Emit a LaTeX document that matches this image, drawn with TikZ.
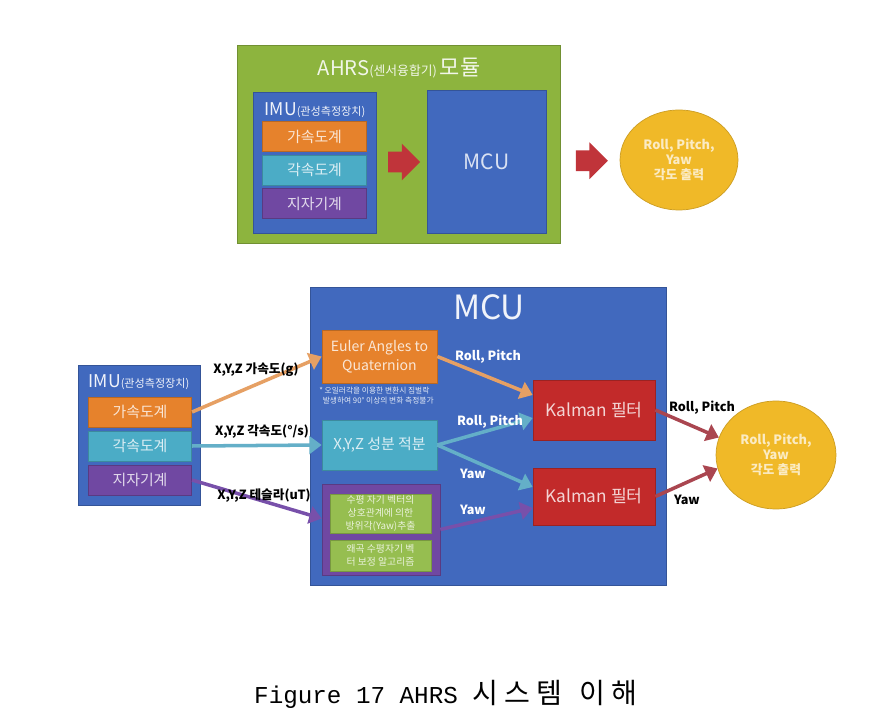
\documentclass[tikz,border=0pt]{standalone}
\usepackage{fontspec}
\setmainfont{Noto Sans CJK KR}
\newfontfamily\capfont{Liberation Mono}
\usetikzlibrary{arrows.meta,shapes.arrows,shapes.geometric,calc}
\definecolor{modgreen}{HTML}{8DB43E}
\definecolor{mblue}{HTML}{4169BE}
\definecolor{sorange}{HTML}{E6822C}
\definecolor{scyan}{HTML}{4BACC6}
\definecolor{spurple}{HTML}{7048A2}
\definecolor{lgreen}{HTML}{96BE50}
\definecolor{kred}{HTML}{C22A2A}
\definecolor{oyellow}{HTML}{F0B928}
\definecolor{aorange}{HTML}{E6A064}
\definecolor{acyan}{HTML}{64AFC8}
\definecolor{apurple}{HTML}{7850AA}
\definecolor{ared}{HTML}{AA4650}
\definecolor{bred}{HTML}{C0343A}

\begin{document}
\begin{tikzpicture}[x=0.02cm, y=-0.02cm,
    box/.style={rectangle, inner sep=1pt, align=center, fill=#1, draw=#1!80!black,
        text=white!80!#1},
    sensor/.style={minimum width=2.07cm, minimum height=0.6cm, font=\fontsize{8.5}{10}\selectfont},
    outcircle/.style={ellipse, inner sep=0pt, align=center, fill=oyellow, draw=oyellow!85!black,
        text=white!72!oyellow, font=\fontsize{7.3}{8.6}\selectfont\bfseries},
    blockarrow/.style={single arrow, fill=bred, inner xsep=0pt, inner ysep=0.2cm,
        minimum height=0.64cm, single arrow head extend=0.16cm},
    link/.style={line width=2pt, draw=#1, -{Triangle[length=7pt,width=10pt]}},
    lbl/.style={inner sep=0pt, font=\fontsize{7.2}{8.5}\selectfont\bfseries},
    tiny/.style={font=\fontsize{5.6}{7.2}\selectfont}]
    \useasboundingbox (0,0) rectangle (895,715);
    \fill[white] (0,0) rectangle (895,715);

    \node[box=modgreen, minimum width=6.46cm, minimum height=3.96cm] (modA) at (398.5,144) {};
    \node[text=white!88!modgreen] (modA-lbl) at (399,68)
        {\fontsize{11.5}{13}\selectfont AHRS\fontsize{7.3}{8}\selectfont(센서융합기) \fontsize{12.5}{14}\selectfont 모듈};
    \node[box=mblue, minimum width=2.46cm, minimum height=2.82cm] (imuA) at (314.5,162.5) {};
    \node[text=white!92!mblue] (imuA-lbl) at (315,110)
        {\fontsize{10}{12}\selectfont IMU\fontsize{6.3}{7}\selectfont(관성측정장치)};
    \node[box=mblue, minimum width=2.38cm, minimum height=2.86cm,
        font=\fontsize{12}{14}\selectfont] (mcuA) at (486.5,161.5) {MCU};
    \node[outcircle, minimum width=2.36cm, minimum height=2cm] (outA) at (679,160)
        {Roll, Pitch,\\Yaw\\각도 출력};
    \node[blockarrow] (arrA1) at ($(imuA.east)!.45!(mcuA.west)$) {};
    \node[blockarrow] (arrA2) at ($(mcuA.east)!.55!(outA.west)$) {};

    \node[box=mblue, minimum width=7.12cm, minimum height=5.96cm] (mcuB) at (488,436) {};
    \node[text=white!92!mblue, font=\fontsize{19}{22}\selectfont] (mcuB-lbl) at (489,307) {MCU};
    \node[box=mblue, minimum width=2.44cm, minimum height=2.8cm] (imuB) at (139,435) {};
    \node[text=white!92!mblue] (imuB-lbl) at (139,382)
        {\fontsize{10}{12}\selectfont IMU\fontsize{6.3}{7}\selectfont(관성측정장치)};

    \foreach \n/\ya/\yb/\c/\t in {acc/136.5/412/sorange/가속도계, gyro/170/446/scyan/각속도계,
            mag/203.5/480/spurple/지자기계}{
            \node[box=\c, sensor] (\n-A) at (314.5,\ya) {\t};
            \node[box=\c, sensor] (\n-B) at (140,\yb) {\t};
        }

    \node[box=sorange, minimum width=2.3cm, minimum height=1.06cm,
        font=\fontsize{8}{10.5}\selectfont] (euler) at (379.5,356.5) {Euler Angles to\\Quaternion};
    \node[anchor=north west, inner sep=0pt, align=left, text=white!85!mblue,
        font=\fontsize{4.4}{5.8}\selectfont] (gimbal) at (319,387)
        {* 오일러각을 이용한 변환시 짐벌락\\\ \ 발생하여 90° 이상의 변화 측정불가};
    \node[box=scyan, minimum width=2.3cm, minimum height=1cm,
        font=\fontsize{8.5}{10}\selectfont] (integ) at (379.5,445) {X,Y,Z 성분 적분};
    \node[box=spurple, minimum width=2.36cm, minimum height=1.82cm] (magbox) at (381,529.5) {};
    \node[box=lgreen, tiny, minimum width=2.02cm, minimum height=0.78cm] (heading) at (380.5,513.5)
        {수평 자기 벡터의\\상호관계에 의한\\방위각(Yaw)추출};
    \node[box=lgreen, tiny, minimum width=2.02cm, minimum height=0.62cm] (distort) at (380.5,555.5)
        {왜곡 수평자기 벡\\터 보정 알고리즘};
    \node[box=kred, minimum width=2.44cm, minimum height=1.2cm,
        font=\fontsize{9.8}{11}\selectfont] (kal1) at (594,410) {Kalman 필터};
    \node[box=kred, minimum width=2.44cm, minimum height=1.14cm,
        font=\fontsize{9.8}{11}\selectfont] (kal2) at (594,496.5) {Kalman 필터};
    \node[outcircle, minimum width=2.4cm, minimum height=2.16cm] (outB) at (776,455)
        {Roll, Pitch,\\Yaw\\각도 출력};

    \draw[link=aorange] (acc-B.east) -- (euler.west);
    \draw[link=acyan] (gyro-B.east) -- (integ.west);
    \draw[link=apurple] (mag-B.east) -- ([yshift=0.22cm]magbox.west);
    \draw[link=aorange] (euler.east) -- ([yshift=0.3cm]kal1.west);
    \draw[link=acyan] (integ.east) -- ([yshift=-0.16cm]kal1.west);
    \draw[link=acyan] (integ.east) -- ([yshift=0.19cm]kal2.west);
    \draw[link=apurple] (magbox.east) -- ([yshift=-0.23cm]kal2.west);
    \draw[link=ared] (kal1.east) -- (outB.163);
    \draw[link=ared] (kal2.east) -- (outB.193);

    \node[lbl] (l-acc) at (256,370) {X,Y,Z 가속도(g)};
    \node[lbl] (l-gyro) at (262,432) {X,Y,Z 각속도(°/s)};
    \node[lbl] (l-mag) at (264,496) {X,Y,Z 테슬라(uT)};
    \node[lbl, text=white] (l-rp1) at (488,357) {Roll, Pitch};
    \node[lbl, text=white] (l-rp2) at (490,422) {Roll, Pitch};
    \node[lbl, text=white] (l-yaw1) at (473,474) {Yaw};
    \node[lbl, text=white] (l-yaw2) at (473,510) {Yaw};
    \node[lbl] (l-rp3) at (702,408) {Roll, Pitch};
    \node[lbl] (l-yaw3) at (687,500) {Yaw};

    \node[font=\fontsize{16}{18}\selectfont] (caption) at (446,694)
        {{\capfont\fontsize{13.8}{16}\selectfont Figure 17 AHRS }시\hspace{3.5pt}스\hspace{3.5pt}템\hspace{10pt}이\hspace{3.5pt}해};
\end{tikzpicture}
\end{document}
